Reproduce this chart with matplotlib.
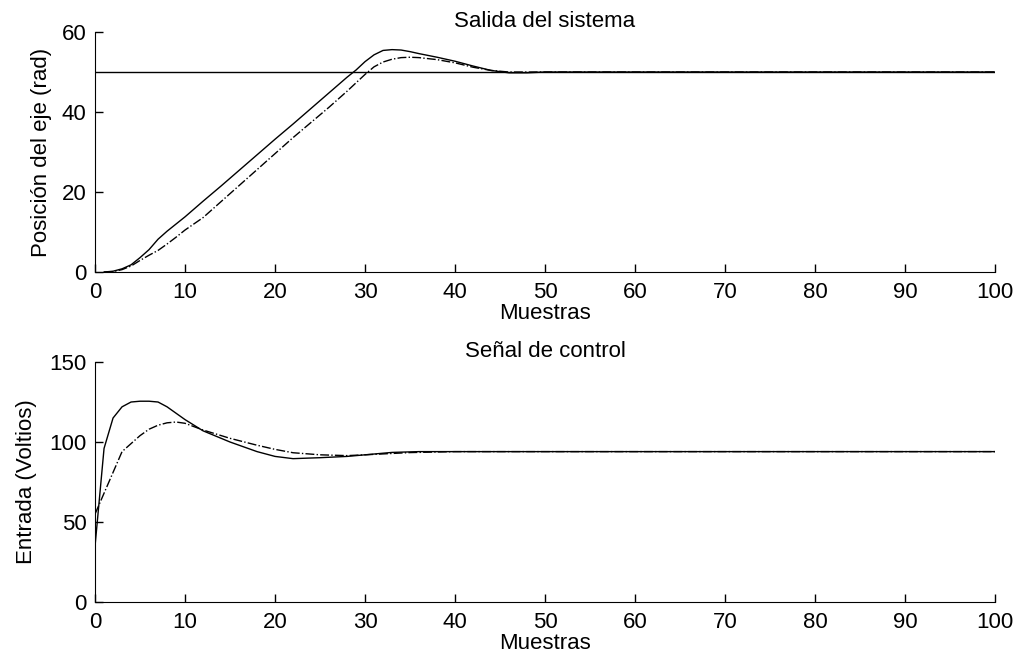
import numpy as np
import matplotlib
matplotlib.use("Agg")
import matplotlib.pyplot as plt

plt.rcParams['font.family'] = ['Liberation Sans', 'DejaVu Sans']

# salida del sistema (posicion del eje)
ref_x = [0, 100]
ref_y = [50, 50]

sal1_x = [1, 2, 3, 4, 5, 6, 7, 8, 9, 10, 12, 14, 16, 18, 20, 22, 24, 26, 28, 29,
          30, 31, 32, 33, 34, 35, 36, 38, 40, 42, 44, 46, 48, 50, 60, 70, 80, 90, 100]
sal1_y = [0, 0.2, 0.8, 1.8, 3.6, 5.6, 8.2, 10.2, 12.0, 13.8, 17.7, 21.5, 25.4, 29.3, 33.2, 37.0, 40.9, 44.8, 48.7, 50.5,
          52.6, 54.3, 55.4, 55.6, 55.5, 55.1, 54.6, 53.7, 52.7, 51.5, 50.4, 49.8, 49.8, 50, 50, 50, 50, 50, 50]

sal2_x = [1, 2, 3, 4, 5, 6, 7, 8, 9, 10, 12, 14, 16, 18, 20, 22, 24, 26, 28, 29,
          30, 31, 32, 33, 34, 35, 36, 38, 40, 42, 44, 46, 50, 60, 70, 80, 90, 100]
sal2_y = [0, 0.1, 0.6, 1.5, 2.9, 4.2, 5.4, 7.0, 8.7, 10.5, 13.6, 17.6, 21.6, 25.6, 29.6, 33.6, 37.4, 41.2, 45.2, 47.3,
          49.4, 51.3, 52.5, 53.2, 53.6, 53.7, 53.6, 53.1, 52.3, 51.2, 50.4, 50.0, 50, 50, 50, 50, 50, 50]

# senal de control
u1_x = [0, 1, 2, 3, 4, 5, 6, 7, 8, 10, 12, 15, 18, 20, 22, 25, 28, 30, 33, 36, 40, 50, 60, 70, 80, 90, 100]
u1_y = [35, 96, 115, 122, 125, 125.5, 125.5, 125, 122, 114, 107, 100, 94, 91, 89.6, 90.2, 91, 92, 93.5, 94, 94, 94, 94, 94, 94, 94, 94]

u2_x = [0, 1, 2, 3, 4, 5, 6, 7, 8, 9, 10, 12, 15, 18, 20, 22, 25, 28, 30, 35, 40, 50, 60, 70, 80, 90, 100]
u2_y = [55, 68, 81, 94, 99, 104, 108, 110.5, 112, 112.5, 111.7, 107.5, 102.3, 98, 95.4, 93.3, 92, 91.5, 92, 93.4, 94, 94, 94, 94, 94, 94, 94]

fs = 16

fig = plt.figure(figsize=(10.22, 6.55), dpi=100)
ax1 = fig.add_axes([0.093, 0.5847, 0.8806, 0.3664])
ax2 = fig.add_axes([0.093, 0.0809, 0.8806, 0.3664])

ax1.plot(ref_x, ref_y, color='black', lw=1.0)
ax1.plot(sal1_x, sal1_y, color='black', lw=1.0)
ax1.plot(sal2_x, sal2_y, color='black', lw=1.0, ls='-.')
ax1.set_xlim(0, 100)
ax1.set_ylim(0, 60)
ax1.set_yticks([0, 20, 40, 60])
ax1.set_title('Salida del sistema', fontsize=fs, pad=1)
ax1.set_xlabel('Muestras', fontsize=fs, labelpad=0)
ax1.set_ylabel('Posición del eje (rad)', fontsize=fs, labelpad=7)

ax2.plot(u1_x, u1_y, color='black', lw=1.0)
ax2.plot(u2_x, u2_y, color='black', lw=1.0, ls='-.')
ax2.set_xlim(0, 100)
ax2.set_ylim(0, 150)
ax2.set_yticks([0, 50, 100, 150])
ax2.set_title('Señal de control', fontsize=fs, pad=1)
ax2.set_xlabel('Muestras', fontsize=fs, labelpad=0)
ax2.set_ylabel('Entrada (Voltios)', fontsize=fs, labelpad=9)

for ax in (ax1, ax2):
    ax.set_xticks(np.arange(0, 101, 10))
    ax.spines['top'].set_visible(False)
    ax.spines['right'].set_visible(False)
    ax.tick_params(direction='in', length=6, width=1, labelsize=fs)
    ax.tick_params(axis='x', pad=7)
    ax.tick_params(axis='y', pad=6)

fig.savefig('out.png', dpi=100)
